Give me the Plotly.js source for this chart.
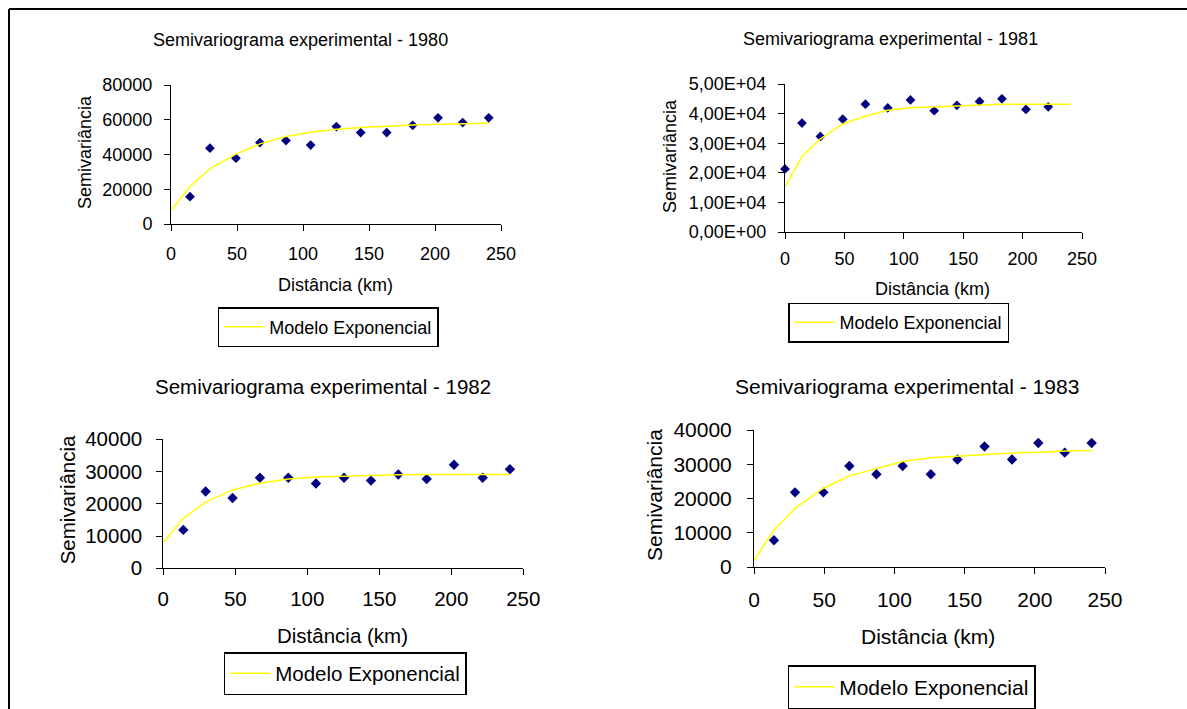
<!DOCTYPE html>
<html>
<head>
<meta charset="utf-8">
<script src="https://cdn.plot.ly/plotly-3.0.1.min.js"></script>
<style>
html,body{margin:0;padding:0;background:#fff;}
#chart{width:1187px;height:709px;}
</style>
</head>
<body>
<div id="chart"></div>
<script>
// ---- Data ----
const dist1980  = [14.4, 29.5, 49.2, 67.4, 87.1, 105.8, 125.3, 143.7, 163.4, 183.1, 202.3, 221.0, 240.7];
const gamma1980 = [15700, 43600, 37900, 46900, 48000, 45400, 56100, 52600, 52600, 56800, 61100, 58400, 61100];
const modelDist1980 = [0, 14.4, 29.5, 49.2, 67.4, 87.1, 105.8, 125.3, 143.7, 163.4, 183.1, 202.3, 221.0, 240.7];
const model1980 = [7700, 21600, 31800, 40200, 46100, 50300, 52800, 54500, 55500, 56300, 57000, 57400, 57800, 58000];

const dist1981  = [0, 14.3, 29.8, 48.6, 67.7, 86.5, 105.6, 125.6, 144.7, 163.8, 182.6, 202.8, 221.6];
const gamma1981 = [21300, 36800, 32300, 38100, 43200, 41900, 44600, 41000, 42800, 44100, 45000, 41400, 42300];
const modelDist1981 = [0, 14.3, 29.8, 48.6, 67.7, 86.5, 105.6, 125.6, 144.7, 163.8, 182.6, 202.8, 221.6, 240.2];
const model1981 = [15300, 25400, 31500, 36500, 39100, 41100, 42000, 42300, 42700, 43000, 43200, 43200, 43200, 43200];

const dist1982  = [13.9, 29.4, 48.1, 67.1, 86.8, 106.0, 125.5, 144.2, 163.2, 182.9, 201.9, 221.8, 240.7];
const gamma1982 = [11900, 23800, 21800, 28100, 28100, 26300, 28100, 27200, 29100, 27700, 32100, 28100, 30700];
const modelDist1982 = [0, 13.9, 29.4, 48.1, 67.1, 86.8, 106.0, 125.5, 144.2, 163.2, 182.9, 201.9, 221.8, 240.7];
const model1982 = [8000, 15500, 20500, 24300, 26400, 27700, 28300, 28600, 28800, 29000, 29100, 29100, 29100, 29100];

const dist1983  = [14.2, 29.2, 49.4, 67.9, 87.2, 105.9, 125.9, 144.9, 164.2, 183.8, 202.5, 221.3, 240.5];
const gamma1983 = [7800, 21800, 21800, 29500, 27100, 29500, 27100, 31400, 35200, 31400, 36200, 33400, 36200];
const modelDist1983 = [0, 14.2, 29.2, 49.4, 67.9, 87.2, 105.9, 125.9, 144.9, 164.2, 183.8, 202.5, 221.3, 240.5];
const model1983 = [2000, 10800, 17100, 23000, 26600, 28800, 30800, 31900, 32400, 32900, 33300, 33500, 33900, 34000];

const titles = ["Semivariograma experimental - 1980", "Semivariograma experimental - 1981",
                "Semivariograma experimental - 1982", "Semivariograma experimental - 1983"];
const xTitle = "Distância (km)";
const yTitle = "Semivariância";
const legendName = "Modelo Exponencial";
const ticks1981 = [0, 10000, 20000, 30000, 40000, 50000];
const tickText1981 = ["0,00E+00", "1,00E+04", "2,00E+04", "3,00E+04", "4,00E+04", "5,00E+04"];

// ---- Layout helpers ----
const W = 1187, H = 709;
const FONT = "Liberation Sans, Arial, sans-serif";
const px = v => v / W;
const py = v => 1 - v / H;

const panels = [
  {d: dist1980, g: gamma1980, md: modelDist1980, m: model1980, x0:171, x1:501, y0:85, y1:224, fs:18,
   yr:[0,80000], dt:20000, title:[301,40], xt:[335.5,285], yt:[85,152], leg:[217.7,307], sym:7.5, gap:8, xgap:7},
  {d: dist1981, g: gamma1981, md: modelDist1981, m: model1981, x0:785, x1:1082, y0:84, y1:232, fs:18,
   yr:[0,50000], tv:ticks1981, tt:tickText1981, title:[890.7,39], xt:[932,289], yt:[670,156], leg:[788,302.5], sym:7.5, gap:8, xgap:4},
  {d: dist1982, g: gamma1982, md: modelDist1982, m: model1982, x0:163.3, x1:523.3, y0:439.3, y1:568.3, fs:20.5,
   yr:[0,40000], dt:10000, title:[323,386], xt:[342,635], yt:[67.3,500], leg:[223.7,652], sym:8, gap:10, xgap:6},
  {d: dist1983, g: gamma1983, md: modelDist1983, m: model1983, x0:754, x1:1105, y0:430, y1:567, fs:21,
   yr:[0,40000], dt:10000, title:[906.7,386.7], xt:[928.3,636.7], yt:[654,495], leg:[787.7,665], sym:8, gap:11, xgap:8}
];

const data = [];
const layout = {
  width: W, height: H,
  margin: {l:0, r:0, t:0, b:0, pad:0, autoexpand:false},
  paper_bgcolor: "#fff", plot_bgcolor: "#fff",
  font: {family: FONT, color: "#000", size: 18},
  annotations: [],
  shapes: [
    {type:"line", xref:"paper", yref:"paper", x0:px(9), x1:1, y0:py(9), y1:py(9), line:{color:"#000", width:2}},
    {type:"line", xref:"paper", yref:"paper", x0:px(9), x1:px(9), y0:py(9), y1:0, line:{color:"#000", width:2}}
  ]
};

panels.forEach((p, i) => {
  const n = i + 1;
  const xa = "x" + (n === 1 ? "" : n), ya = "y" + (n === 1 ? "" : n);
  const xk = "xaxis" + (n === 1 ? "" : n), yk = "yaxis" + (n === 1 ? "" : n);
  const lk = "legend" + (n === 1 ? "" : n);

  data.push({
    type:"scatter", mode:"markers", x:p.d, y:p.g, xaxis:xa, yaxis:ya,
    marker:{symbol:"diamond", size:p.sym, color:"#000080", line:{width:0}},
    showlegend:false, cliponaxis:false, hoverinfo:"x+y"
  });
  data.push({
    type:"scatter", mode:"lines", x:p.md, y:p.m, xaxis:xa, yaxis:ya,
    name: legendName, legend: lk,
    line:{color:"#FFFF00", width:1.5}, cliponaxis:false
  });

  layout[xk] = {
    domain:[px(p.x0), px(p.x1)], anchor: ya, range:[0,250], dtick:50, tick0:0, tickformat:"d",
    showgrid:false, zeroline:false, showline:true, linecolor:"#000", linewidth:1,
    ticks:"outside", ticklen:6, tickwidth:1, tickcolor:"#000",
    tickfont:{size:p.fs, family:FONT, color:"#000"}, ticklabelstandoff: p.xgap, fixedrange:true
  };
  const yax = {
    domain:[py(p.y1), py(p.y0)], anchor: xa, range:p.yr,
    showgrid:false, zeroline:false, showline:true, linecolor:"#000", linewidth:1,
    ticks:"outside", ticklen:6, tickwidth:1, tickcolor:"#000",
    tickfont:{size:p.fs, family:FONT, color:"#000"}, ticklabelstandoff: p.gap, fixedrange:true
  };
  if (p.tv) { yax.tickmode = "array"; yax.tickvals = p.tv; yax.ticktext = p.tt; }
  else { yax.dtick = p.dt; yax.tick0 = 0; yax.tickformat = "d"; }
  layout[yk] = yax;

  layout[lk] = {
    x: px(p.leg[0]), y: py(p.leg[1]), xref:"paper", yref:"paper", xanchor:"left", yanchor:"top",
    bgcolor:"#fff", bordercolor:"#000", borderwidth:1.5, itemwidth:40,
    font:{size:p.fs, family:FONT, color:"#000"}
  };

  layout.annotations.push(
    {text: titles[i], xref:"paper", yref:"paper", x:px(p.title[0]), y:py(p.title[1]),
     xanchor:"center", yanchor:"middle", showarrow:false, font:{size:p.fs, family:FONT, color:"#000"}},
    {text: xTitle, xref:"paper", yref:"paper", x:px(p.xt[0]), y:py(p.xt[1]),
     xanchor:"center", yanchor:"middle", showarrow:false, font:{size:p.fs, family:FONT, color:"#000"}},
    {text: yTitle, xref:"paper", yref:"paper", x:px(p.yt[0]), y:py(p.yt[1]), textangle:-90,
     xanchor:"center", yanchor:"middle", showarrow:false, font:{size:p.fs, family:FONT, color:"#000"}}
  );
});

Plotly.newPlot("chart", data, layout, {displayModeBar:false, responsive:false});
</script>
</body>
</html>
